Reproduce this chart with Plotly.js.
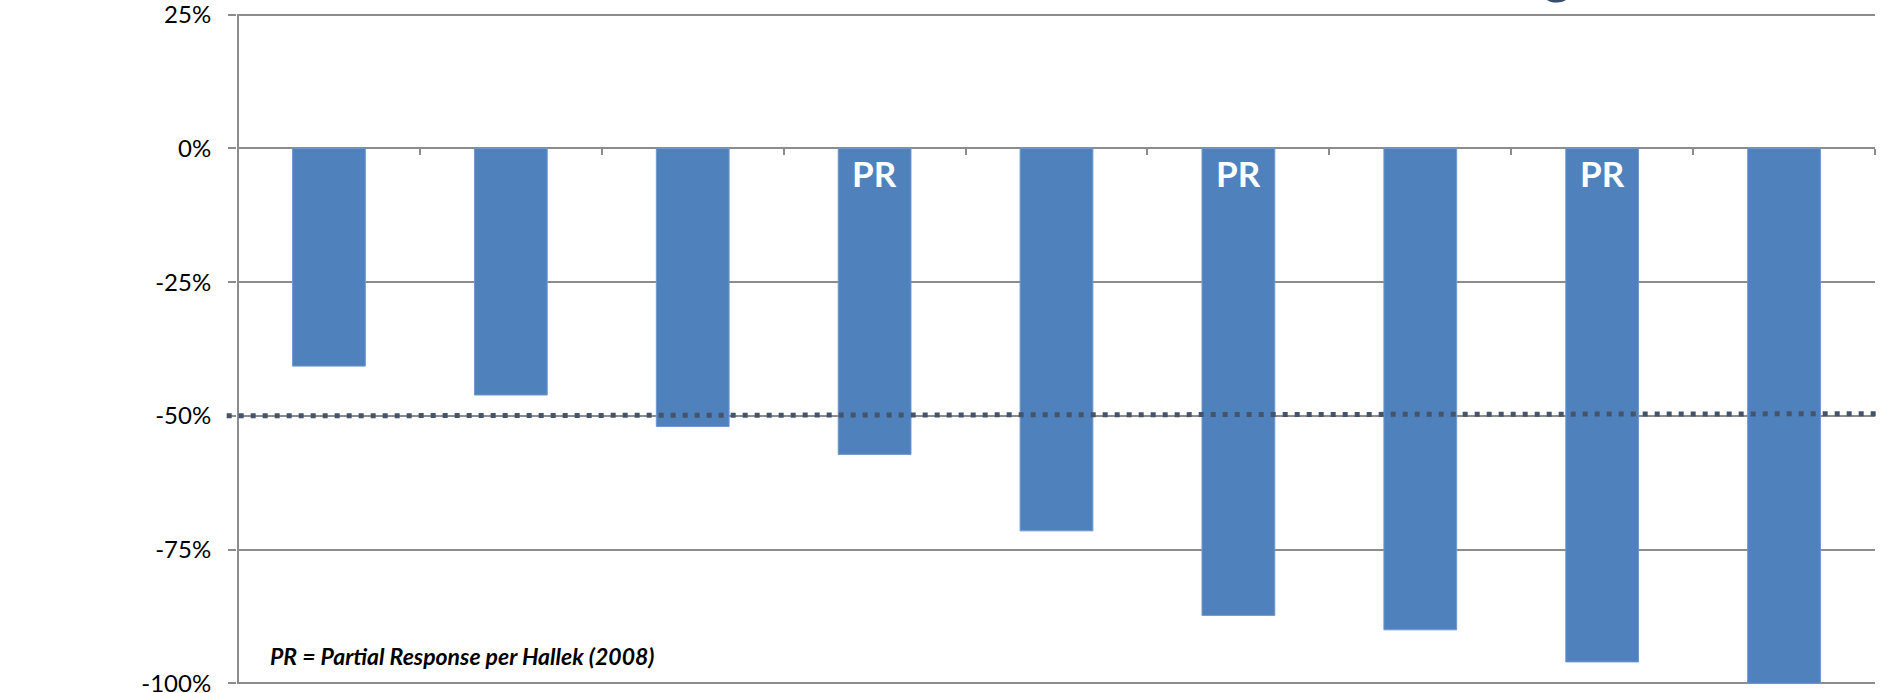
<!DOCTYPE html>
<html>
<head>
<meta charset="utf-8">
<script src="https://cdn.plot.ly/plotly-3.0.1.min.js"></script>
<style>
  html, body { margin: 0; padding: 0; background: #ffffff; }
  #chart { width: 1882px; height: 693px; }
</style>
</head>
<body>
<div id="chart"></div>
<script>
// Data (percent change)
const categories = ["Pt A", "Pt B", "Pt C", "Pt D", "Pt E", "Pt F", "Pt G", "Pt H", "Pt I"];
const changeValues = [-40.7, -46.1, -52.0, -57.2, -71.5, -87.3, -90.0, -96.0, -100.0];
const prLabels = ["", "", "", "PR", "", "PR", "", "PR", ""];
const yTickValues = [25, 0, -25, -50, -75, -100];
const yTickLabels = ["25%", "0%", "-25%", "-50%", "-75%", "-100%"];
const thresholdStart = -50.0;
const thresholdEnd = -49.6;
const footnote = "PR = Partial Response per Hallek (2008)";

const gridColor = "#8c8c8c";

const trace = {
  type: "bar",
  x: categories,
  y: changeValues,
  marker: { color: "#4f81bd", line: { color: "#6f98cc", width: 1 } },
  hoverinfo: "skip"
};

const annotations = [];
categories.forEach((c, i) => {
  if (prLabels[i]) {
    annotations.push({
      x: i, y: 0, xref: "x", yref: "y",
      text: "<b>" + prLabels[i] + "</b>",
      showarrow: false,
      xanchor: "center", yanchor: "top",
      yshift: -2,
      font: { family: "Lato", size: 35, color: "#ffffff" }
    });
  }
});
annotations.push({
  x: 0.019, y: 0.044, xref: "paper", yref: "paper",
  text: "<b><i>" + footnote + "</i></b>",
  showarrow: false, xanchor: "left", yanchor: "middle",
  font: { family: "Lato", size: 23, color: "#000000" }
});
// fragment of cut-off heading at top
annotations.push({
  x: 0.806, y: 1, xref: "paper", yref: "paper",
  text: "<b>g</b>",
  showarrow: false, xanchor: "center", yanchor: "bottom",
  yshift: 5,
  font: { family: "Lato", size: 54, color: "#3a4d6b" }
});

const layout = {
  width: 1882,
  height: 693,
  margin: { l: 237, r: 7, t: 12, b: 7 },
  paper_bgcolor: "#ffffff",
  plot_bgcolor: "#ffffff",
  showlegend: false,
  bargap: 0.6,
  xaxis: {
    type: "category",
    categoryorder: "array",
    categoryarray: categories,
    showticklabels: false,
    showgrid: false,
    zeroline: false,
    showline: false,
    ticks: "outside",
    tickson: "boundaries",
    ticklen: 6,
    tickwidth: 2,
    tickcolor: gridColor,
    anchor: "free",
    position: 100.5 / 126
  },
  yaxis: {
    range: [-100.5, 25.5],
    tickvals: yTickValues,
    ticktext: yTickLabels,
    showgrid: true,
    gridcolor: gridColor,
    gridwidth: 2,
    zeroline: true,
    zerolinecolor: gridColor,
    zerolinewidth: 2,
    showline: false,
    ticks: "outside",
    ticklen: 8,
    tickwidth: 2,
    tickcolor: gridColor,
    ticklabelstandoff: 12,
    ticklabeloverflow: "allow",
    tickfont: { family: "Lato", size: 24, color: "#000000" }
  },
  shapes: [{
    type: "line",
    xref: "x", yref: "y",
    x0: -0.5, x1: -0.5,
    y0: yTickValues[yTickValues.length - 1], y1: yTickValues[0],
    line: { color: gridColor, width: 2 },
    layer: "above"
  }, {
    type: "line",
    xref: "paper", yref: "y",
    x0: -0.0063, x1: 1.002,
    y0: thresholdStart, y1: thresholdEnd,
    line: { color: "#44546a", width: 5, dash: "5px,7px" },
    layer: "above"
  }],
  annotations: annotations
};

Plotly.newPlot("chart", [trace], layout, { displayModeBar: false, staticPlot: true });
</script>
</body>
</html>
